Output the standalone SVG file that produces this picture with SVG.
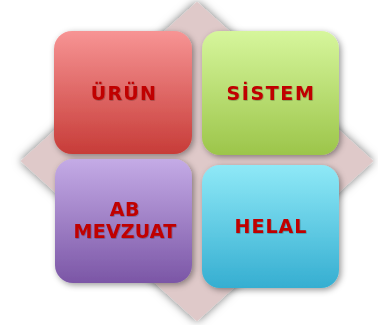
<svg xmlns="http://www.w3.org/2000/svg" width="378" height="325" viewBox="0 0 378 325">
<defs>
<linearGradient id="gRed" x1="0" y1="0" x2="0" y2="1"><stop offset="0" stop-color="#f79494"/><stop offset="1" stop-color="#c73c38"/></linearGradient>
<linearGradient id="gGreen" x1="0" y1="0" x2="0" y2="1"><stop offset="0" stop-color="#d6f69c"/><stop offset="1" stop-color="#9cc54a"/></linearGradient>
<linearGradient id="gPurple" x1="0" y1="0" x2="0" y2="1"><stop offset="0" stop-color="#c4abe6"/><stop offset="1" stop-color="#7b56a6"/></linearGradient>
<linearGradient id="gCyan" x1="0" y1="0" x2="0" y2="1"><stop offset="0" stop-color="#8fe9f7"/><stop offset="1" stop-color="#35aed1"/></linearGradient>
<filter id="shD" x="-20%" y="-20%" width="140%" height="140%"><feDropShadow dx="0" dy="0" stdDeviation="5" flood-color="#000" flood-opacity="0.55"/></filter>
<filter id="shB" x="-20%" y="-20%" width="140%" height="140%"><feDropShadow dx="2" dy="2" stdDeviation="3" flood-color="#000" flood-opacity="0.4"/></filter>
<filter id="shT" x="-10%" y="-30%" width="120%" height="160%"><feDropShadow dx="0.6" dy="0.6" stdDeviation="0.4" flood-color="#000" flood-opacity="0.35"/></filter>
</defs>
<style>
.box{filter:url(#shB)}
.lbl{font-family:"DejaVu Sans","Verdana",sans-serif;font-weight:bold;font-size:19px;fill:#c00000;text-anchor:middle;filter:url(#shT)}
</style>
<rect width="378" height="325" fill="#ffffff"/>
<g id="background">
<polygon points="197,3 372,161 197,320 22,161" fill="#dfc9c9" stroke="#dfc9c9" stroke-width="2" stroke-linejoin="round" filter="url(#shD)"/>
</g>
<g id="connectors"/>
<g id="urun">
<rect class="box" x="54" y="31" width="138" height="123" rx="18" fill="url(#gRed)"/>
<text class="lbl" x="124" y="100" letter-spacing="1.3">ÜRÜN</text>
</g>
<g id="sistem">
<rect class="box" x="202" y="31" width="137" height="124" rx="18" fill="url(#gGreen)"/>
<text class="lbl" x="271" y="100" letter-spacing="1.6">SİSTEM</text>
</g>
<g id="abmevzuat">
<rect class="box" x="55" y="159" width="137" height="124" rx="18" fill="url(#gPurple)"/>
<text class="lbl" x="125" y="216" letter-spacing="0.6">AB</text>
<text class="lbl" x="125" y="238" letter-spacing="0.2">MEVZUAT</text>
</g>
<g id="helal">
<rect class="box" x="202" y="165" width="137" height="123" rx="18" fill="url(#gCyan)"/>
<text class="lbl" x="271" y="233" letter-spacing="1">HELAL</text>
</g>
</svg>
